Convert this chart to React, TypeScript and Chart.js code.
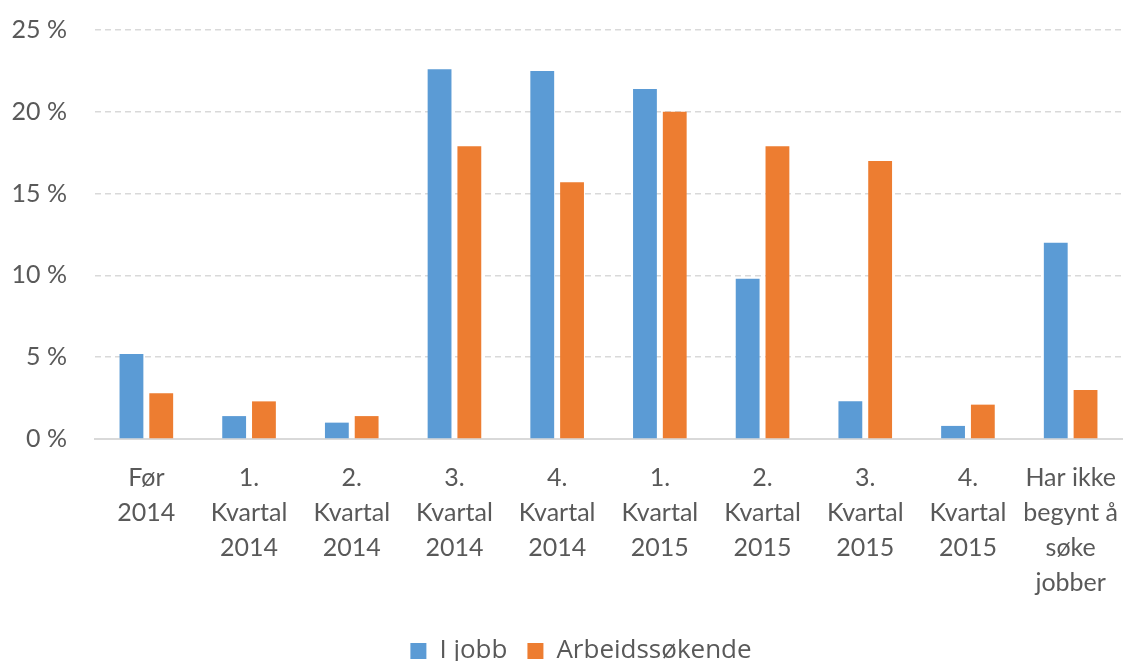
import React, { useEffect, useRef } from "react";
import { Chart, registerables } from "chart.js";

Chart.register(...registerables);

const categories: string[][] = [
  ["Før", "2014"],
  ["1.", "Kvartal", "2014"],
  ["2.", "Kvartal", "2014"],
  ["3.", "Kvartal", "2014"],
  ["4.", "Kvartal", "2014"],
  ["1.", "Kvartal", "2015"],
  ["2.", "Kvartal", "2015"],
  ["3.", "Kvartal", "2015"],
  ["4.", "Kvartal", "2015"],
  ["Har ikke", "begynt å", "søke", "jobber"],
];

const iJobb: number[] = [5.2, 1.4, 1.0, 22.6, 22.5, 21.4, 9.8, 2.3, 0.8, 12.0];
const arbeidssokende: number[] = [2.8, 2.3, 1.4, 17.9, 15.7, 20.0, 17.9, 17.0, 2.1, 3.0];

const seriesNames: string[] = ["I jobb", "Arbeidssøkende"];
const yTicks: number[] = [0, 5, 10, 15, 20, 25];

const FONT = "Lato, 'Open Sans', sans-serif";
const LEGEND_FONT = "'Open Sans', Lato, sans-serif";
const TEXT = "#595959";

// Trim the legend box height and nudge it so it sits like the reference
const legendTrim = {
  id: "legendTrim",
  beforeLayout(chart: any) {
    const lg = chart.legend;
    if (lg && !lg.__trimmed) {
      const orig = lg.fit.bind(lg);
      lg.fit = function () {
        orig();
        this.height = Math.max(this.height - 13, 0);
      };
      lg.__trimmed = true;
    }
  },
  afterLayout(chart: any) {
    const lg = chart.legend;
    if (lg) {
      lg.left += 20;
      lg.right += 20;
    }
  },
};

export default function App() {
  const ref = useRef<HTMLCanvasElement | null>(null);

  useEffect(() => {
    if (!ref.current) return;
    const chart = new Chart(ref.current, {
      type: "bar",
      data: {
        labels: categories,
        datasets: [
          {
            label: seriesNames[0],
            data: iJobb,
            backgroundColor: "#5B9BD5",
            categoryPercentage: 0.58,
            barPercentage: 0.8,
          },
          {
            label: seriesNames[1],
            data: arbeidssokende,
            backgroundColor: "#ED7D31",
            categoryPercentage: 0.58,
            barPercentage: 0.8,
          },
        ],
      },
      plugins: [legendTrim],
      options: {
        animation: false,
        responsive: true,
        maintainAspectRatio: false,
        layout: { padding: { top: 30, right: 5, left: 0, bottom: 0 } },
        plugins: {
          tooltip: { enabled: false },
          legend: {
            position: "bottom",
            labels: {
              color: TEXT,
              font: { family: LEGEND_FONT, size: 26 },
              boxWidth: 16,
              boxHeight: 16,
              padding: 20,
            },
          },
        },
        scales: {
          x: {
            grid: { display: false, drawTicks: false },
            border: { display: true, color: "#d9d9d9", width: 2 },
            afterFit: (axis: any) => {
              axis.height = 179;
              axis.paddingLeft = 0;
              axis.paddingRight = 0;
            },
            ticks: {
              color: TEXT,
              font: { family: FONT, size: 25, lineHeight: 1.4 },
              maxRotation: 0,
              autoSkip: false,
              padding: 21,
            },
          },
          y: {
            min: 0,
            max: 25,
            afterBuildTicks: (axis: any) => {
              axis.ticks = yTicks.map((v) => ({ value: v }));
            },
            afterFit: (axis: any) => {
              axis.width = 95;
              axis.paddingTop = 0;
              axis.paddingBottom = 0;
            },
            grid: {
              color: (ctx: any) => (ctx.tick && ctx.tick.value === 0 ? "rgba(0,0,0,0)" : "#d9d9d9"),
              lineWidth: 1.5,
              drawTicks: false,
            },
            border: { display: false, dash: [6, 4] },
            ticks: {
              color: TEXT,
              font: { family: FONT, size: 25 },
              padding: 28,
              callback: (v: any) => `${v} %`,
            },
          },
        },
      },
    });
    return () => chart.destroy();
  }, []);

  return (
    <div style={{ position: "fixed", left: 0, top: 0, width: 1127, height: 661, background: "#fff" }}>
      <canvas ref={ref} />
    </div>
  );
}
